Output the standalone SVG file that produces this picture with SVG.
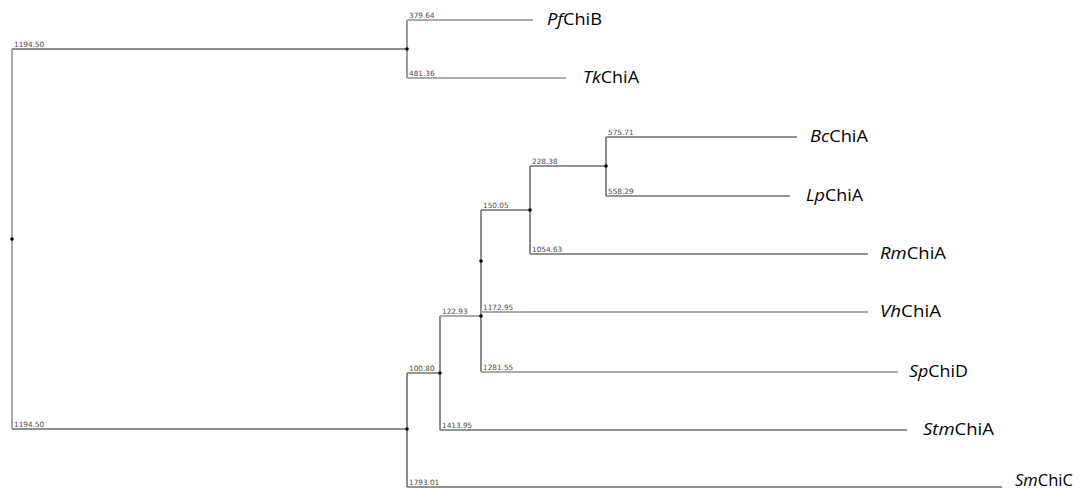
<svg xmlns="http://www.w3.org/2000/svg" width="1082" height="492" viewBox="0 0 1082 492">
<style>
.d{stroke:#707070;stroke-width:1.6;fill:none}
.l{stroke:#ababab;stroke-width:2;fill:none}
.m{stroke:#909090;stroke-width:1.8;fill:none}
.bl{font-family:"DejaVu Sans",sans-serif;font-size:7.3px;fill:#4a4a4a}
.tx{font-family:"Open Sans","Liberation Sans",sans-serif;font-size:15.5px;fill:#000}
.dot{fill:#000}
</style>
<rect width="1082" height="492" fill="#fff"/>
<g id="connectors">
<line class="l" x1="12" y1="49" x2="12" y2="429"/>
<line class="m" x1="12" y1="49" x2="407" y2="49"/>
<line class="m" x1="12" y1="429" x2="407" y2="429"/>
<line class="m" x1="407" y1="20" x2="407" y2="78"/>
<line class="l" x1="407" y1="20" x2="533" y2="20"/>
<line class="l" x1="407" y1="78" x2="566" y2="78"/>
<line class="d" x1="407" y1="373" x2="407" y2="487"/>
<line class="d" x1="407" y1="487" x2="1002" y2="487"/>
<line class="d" x1="407" y1="373" x2="440" y2="373"/>
<line class="d" x1="440" y1="316" x2="440" y2="430"/>
<line class="d" x1="440" y1="430" x2="907" y2="430"/>
<line class="l" x1="440" y1="316" x2="481" y2="316"/>
<line class="d" x1="481" y1="210" x2="481" y2="372"/>
<line class="l" x1="481" y1="312" x2="868" y2="312"/>
<line class="l" x1="481" y1="372" x2="898" y2="372"/>
<line class="d" x1="481" y1="210" x2="530" y2="210"/>
<line class="d" x1="530" y1="166" x2="530" y2="254"/>
<line class="d" x1="530" y1="254" x2="868" y2="254"/>
<line class="d" x1="530" y1="166" x2="606" y2="166"/>
<line class="d" x1="606" y1="137" x2="606" y2="196"/>
<line class="d" x1="606" y1="137" x2="797" y2="137"/>
<line class="d" x1="606" y1="196" x2="790" y2="196"/>
<circle class="dot" cx="12" cy="239" r="1.8"/>
<circle class="dot" cx="407" cy="49" r="1.8"/>
<circle class="dot" cx="407" cy="429" r="1.8"/>
<circle class="dot" cx="440" cy="373" r="1.8"/>
<circle class="dot" cx="481" cy="261" r="1.8"/>
<circle class="dot" cx="481" cy="316" r="1.8"/>
<circle class="dot" cx="530" cy="210" r="1.8"/>
<circle class="dot" cx="606" cy="166" r="1.8"/>
</g>
<g id="branch-labels">
<text class="bl" x="14" y="47">1194.50</text>
<text class="bl" x="14" y="427">1194.50</text>
<text class="bl" x="409" y="18">379.64</text>
<text class="bl" x="409" y="76">481.36</text>
<text class="bl" x="608" y="135">575.71</text>
<text class="bl" x="608" y="194">558.29</text>
<text class="bl" x="532" y="164">228.38</text>
<text class="bl" x="483" y="208">150.05</text>
<text class="bl" x="532" y="252">1054.63</text>
<text class="bl" x="483" y="310">1172.95</text>
<text class="bl" x="483" y="370">1281.55</text>
<text class="bl" x="442" y="314">122.93</text>
<text class="bl" x="409" y="371">100.80</text>
<text class="bl" x="442" y="428">1413.95</text>
<text class="bl" x="409" y="485">1793.01</text>
</g>
<g id="PfChiB"><text class="tx" x="547" y="25" textLength="55" lengthAdjust="spacingAndGlyphs"><tspan font-style="italic">Pf</tspan>ChiB</text></g>
<g id="TkChiA"><text class="tx" x="583" y="83" textLength="56" lengthAdjust="spacingAndGlyphs"><tspan font-style="italic">Tk</tspan>ChiA</text></g>
<g id="BcChiA"><text class="tx" x="810" y="142" textLength="58" lengthAdjust="spacingAndGlyphs"><tspan font-style="italic">Bc</tspan>ChiA</text></g>
<g id="LpChiA"><text class="tx" x="806" y="201" textLength="57" lengthAdjust="spacingAndGlyphs"><tspan font-style="italic">Lp</tspan>ChiA</text></g>
<g id="RmChiA"><text class="tx" x="880" y="259" textLength="66" lengthAdjust="spacingAndGlyphs"><tspan font-style="italic">Rm</tspan>ChiA</text></g>
<g id="VhChiA"><text class="tx" x="880" y="317" textLength="61" lengthAdjust="spacingAndGlyphs"><tspan font-style="italic">Vh</tspan>ChiA</text></g>
<g id="SpChiD"><text class="tx" x="909" y="377" textLength="59" lengthAdjust="spacingAndGlyphs"><tspan font-style="italic">Sp</tspan>ChiD</text></g>
<g id="StmChiA"><text class="tx" x="923" y="435" textLength="71" lengthAdjust="spacingAndGlyphs"><tspan font-style="italic">Stm</tspan>ChiA</text></g>
<g id="SmChiC"><text class="tx" x="1015" y="486" textLength="58" lengthAdjust="spacingAndGlyphs"><tspan font-style="italic">Sm</tspan>ChiC</text></g>
</svg>
